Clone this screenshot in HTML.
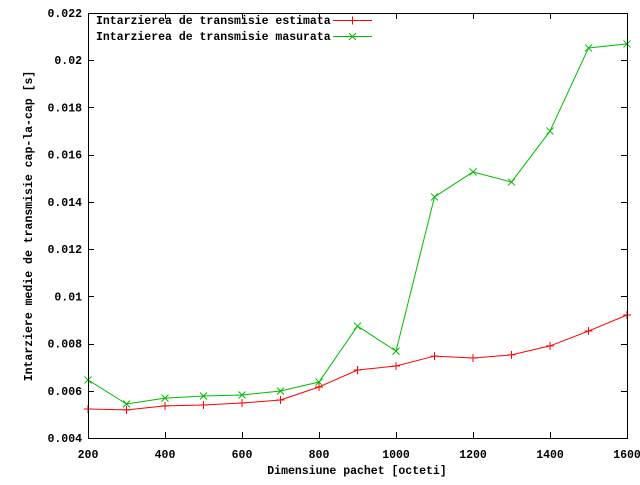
<!DOCTYPE html>
<html><head><meta charset="utf-8"><style>
body{margin:0;background:#fff}
svg text{font-family:"Liberation Mono","DejaVu Sans Mono",monospace;font-weight:bold;font-size:11.5px;fill:#000}
</style></head><body>
<svg id="chart" width="640" height="480" xmlns="http://www.w3.org/2000/svg">
<rect x="0" y="0" width="640" height="480" fill="#fff"/>
<g id="axes"></g>
<g id="marks"></g>
<rect x="88.5" y="13.5" width="539" height="425" fill="none" stroke="#000" stroke-width="1"/>
<text x="96" y="24">Intarzierea de transmisie estimata</text>
<text x="96" y="40">Intarzierea de transmisie masurata</text>
<line x1="333" y1="20.5" x2="372" y2="20.5" stroke="#f00"/>
<line x1="333" y1="36.5" x2="372" y2="36.5" stroke="#0b0"/>
<text x="357" y="474" text-anchor="middle">Dimensiune pachet [octeti]</text>
<text transform="translate(32,226) rotate(-90)" text-anchor="middle">Intarziere medie de transmisie cap-la-cap [s]</text>
</svg>
<script>
const xValues=[200,300,400,500,600,700,800,900,1000,1100,1200,1300,1400,1500,1600];
const estimata=[0.00523,0.00519,0.00536,0.0054,0.00548,0.00561,0.00616,0.00688,0.00705,0.00747,0.00739,0.00752,0.0079,0.00853,0.00921];
const masurata=[0.00646,0.00544,0.00569,0.00578,0.00582,0.00599,0.00637,0.00874,0.00768,0.01421,0.01527,0.01484,0.017,0.02052,0.02069];
const xTicks=[200,400,600,800,1000,1200,1400,1600];
const yTicks=[0.004,0.006,0.008,0.01,0.012,0.014,0.016,0.018,0.02,0.022];
const yTickLabels=["0.004","0.006","0.008","0.01","0.012","0.014","0.016","0.018","0.02","0.022"];
const L=88,R=627,T=13,B=438;
const sx=v=>L+(v-200)/1400*(R-L);
const sy=v=>B-(v-0.004)/0.018*(B-T);
const NS="http://www.w3.org/2000/svg";
const axes=document.getElementById('axes'),marks=document.getElementById('marks');
function mk(tag,attrs,parent){const e=document.createElementNS(NS,tag);for(const k in attrs)e.setAttribute(k,attrs[k]);parent.appendChild(e);return e;}
xTicks.forEach(v=>{const x=Math.round(sx(v))+0.5;
const t1=mk('line',{x1:x,y1:B,x2:x,y2:B-6,stroke:'#000'},axes);


const t2=mk('line',{x1:x,y1:T,x2:x,y2:T+6,stroke:'#000'},axes);


const tx=mk('text',{x:sx(v),y:458,'text-anchor':'middle'},axes);tx.textContent=v;


});
yTicks.forEach((v,i)=>{const y=Math.round(sy(v))+0.5;
const t1=mk('line',{x1:L,y1:y,x2:L+6,y2:y,stroke:'#000'},axes);


const t2=mk('line',{x1:R,y1:y,x2:R-6,y2:y,stroke:'#000'},axes);


const tx=mk('text',{x:82,y:sy(v)+4,'text-anchor':'end'},axes);tx.textContent=yTickLabels[i];


});
function series(vals,color,name,cross){
const p=mk('polyline',{points:xValues.map((x,i)=>sx(x)+','+sy(vals[i])).join(' '),fill:'none',stroke:color},marks);


xValues.forEach((x,i)=>{const cx=sx(x),cy=sy(vals[i]);
const g=mk('path',{d:cross?`M${cx-3.5},${cy-3.5}L${cx+3.5},${cy+3.5}M${cx-3.5},${cy+3.5}L${cx+3.5},${cy-3.5}`:`M${cx-4},${cy}L${cx+4},${cy}M${cx},${cy-4}L${cx},${cy+4}`,stroke:color,fill:'none'},marks);


});
}
series(estimata,'#f00','estimata',false);
series(masurata,'#0b0','masurata',true);
const m1=mk('path',{d:'M352.5,16.5v8',stroke:'#f00'},marks);


const m2=mk('path',{d:'M349,33L356,40M349,40L356,33',stroke:'#0b0'},marks);


</script>
</body></html>
